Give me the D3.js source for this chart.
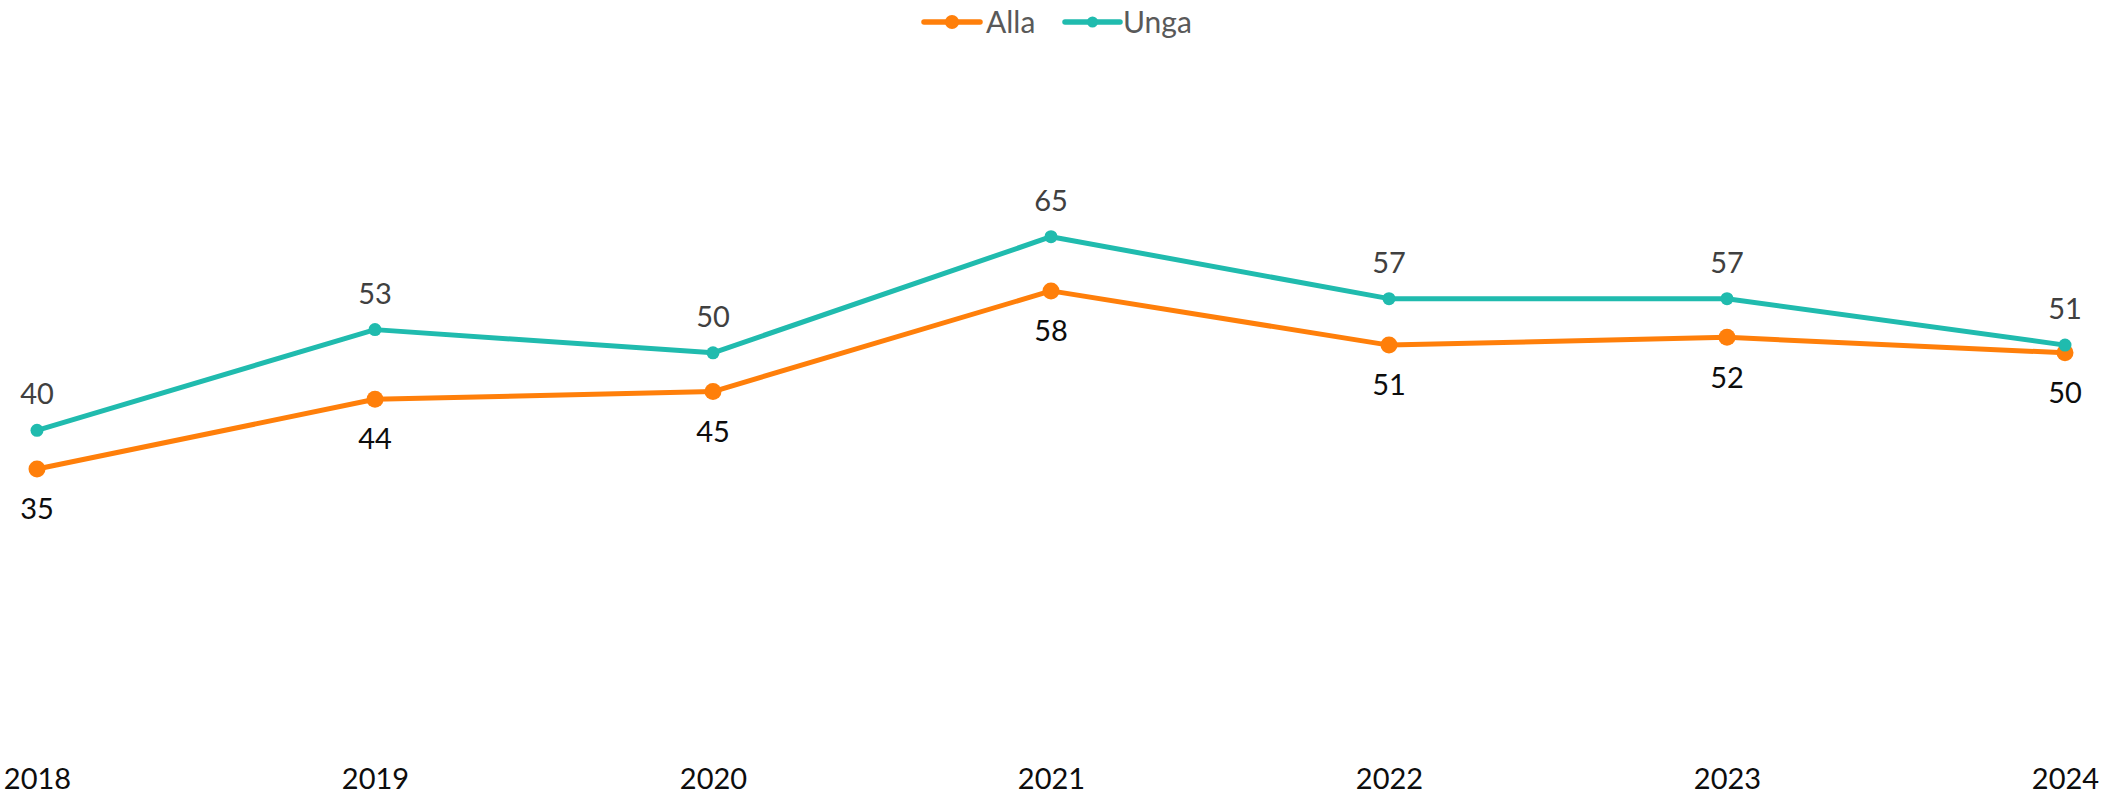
<!DOCTYPE html>
<html>
<head>
<meta charset="utf-8">
<script src="https://cdn.jsdelivr.net/npm/d3@7"></script>
<style>
  html, body { margin: 0; padding: 0; background: #ffffff; }
  svg { display: block; font-family: "Lato", "Noto Sans", sans-serif; }
</style>
</head>
<body>
<svg id="chart" width="2122" height="795"></svg>
<script>
const years = ["2018", "2019", "2020", "2021", "2022", "2023", "2024"];
const allaValues = [35, 44, 45, 58, 51, 52, 50];
const ungaValues = [40, 53, 50, 65, 57, 57, 51];
const seriesNames = ["Alla", "Unga"];
const seriesColors = ["#FF7F0A", "#20BBAE"];

const svg = d3.select("#chart");
const W = 2122, H = 795;

const x = d3.scalePoint().domain(years).range([37, 2065]);
const y = d3.scaleLinear().domain([0, 90]).range([740, 740 - 90 * 7.743]);

const series = [
  { name: seriesNames[0], values: allaValues, color: seriesColors[0], r: 8.5, labelDy: 40, labelColor: "#0d0d0d" },
  { name: seriesNames[1], values: ungaValues, color: seriesColors[1], r: 6.5, labelDy: -36, labelColor: "#404040" }
];

const line = d3.line()
  .x((d, i) => x(years[i]))
  .y(d => y(d));

// x axis (labels only)
const xAxis = d3.axisBottom(x).tickSize(0).tickPadding(0);
const gx = svg.append("g").attr("transform", "translate(0,768)").call(xAxis);
gx.select(".domain").remove();
gx.selectAll("text")
  .attr("font-size", 29)
  .attr("font-family", "Lato, 'Noto Sans', sans-serif")
  .attr("fill", "#0d0d0d")
  .attr("dy", "0.71em")
  .attr("y", 0);

// lines & markers
series.forEach(s => {
  const g = svg.append("g");
  g.append("path")
    .datum(s.values)
    .attr("d", line)
    .attr("fill", "none")
    .attr("stroke", s.color)
    .attr("stroke-width", 5)
    .attr("stroke-linejoin", "round")
    .attr("stroke-linecap", "round");
  g.selectAll("circle")
    .data(s.values)
    .join("circle")
    .attr("cx", (d, i) => x(years[i]))
    .attr("cy", d => y(d))
    .attr("r", s.r)
    .attr("fill", s.color);
});

// data labels
series.forEach(s => {
  svg.append("g").selectAll("text")
    .data(s.values)
    .join("text")
    .attr("x", (d, i) => x(years[i]))
    .attr("y", d => y(d) + s.labelDy)
    .attr("dy", "0.35em")
    .attr("text-anchor", "middle")
    .attr("font-size", 29)
    .attr("fill", s.labelColor)
    .text(d => d);
});

// legend
const legendItems = [
  { name: seriesNames[0], color: seriesColors[0], x0: 924, x1: 980, r: 7, tx: 986 },
  { name: seriesNames[1], color: seriesColors[1], x0: 1065, x1: 1120, r: 5.5, tx: 1123 }
];
const lg = svg.append("g");
const ly = 22;
legendItems.forEach(it => {
  lg.append("line")
    .attr("x1", it.x0).attr("x2", it.x1)
    .attr("y1", ly).attr("y2", ly)
    .attr("stroke", it.color)
    .attr("stroke-width", 5.5)
    .attr("stroke-linecap", "round");
  lg.append("circle")
    .attr("cx", (it.x0 + it.x1) / 2)
    .attr("cy", ly)
    .attr("r", it.r)
    .attr("fill", it.color);
  lg.append("text")
    .attr("x", it.tx)
    .attr("y", ly)
    .attr("dy", "0.35em")
    .attr("font-size", 30)
    .attr("fill", "#595959")
    .text(it.name);
});
</script>
</body>
</html>
